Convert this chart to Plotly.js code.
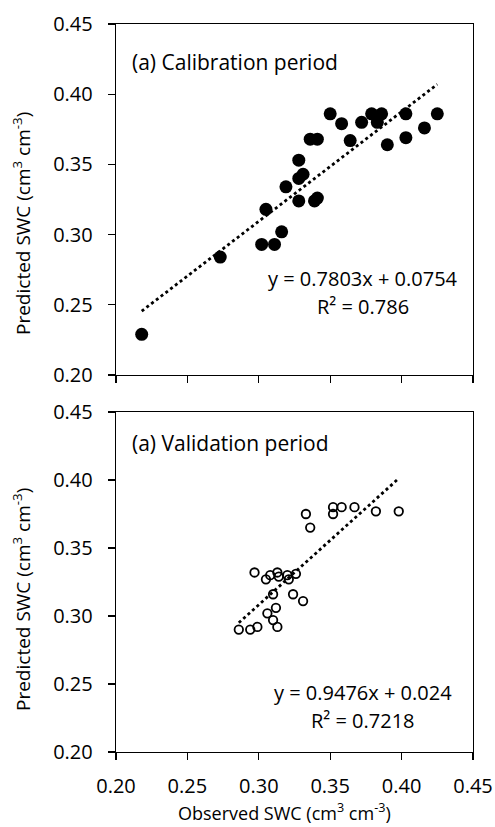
<!DOCTYPE html>
<html>
<head>
<meta charset="utf-8">
<script src="https://cdn.plot.ly/plotly-3.0.1.min.js"></script>
<style>html,body{margin:0;padding:0;background:#fff;}#chart{width:495px;height:827px;}</style>
</head>
<body>
<div id="chart"></div>
<script>
// Calibration period data (observed, predicted)
const calObserved = [0.218, 0.273, 0.302, 0.305, 0.311, 0.316, 0.319, 0.328, 0.328, 0.328, 0.331, 0.336, 0.339, 0.341, 0.341, 0.350, 0.358, 0.364, 0.372, 0.379, 0.383, 0.386, 0.390, 0.403, 0.403, 0.416, 0.425];
const calPredicted = [0.229, 0.284, 0.293, 0.318, 0.293, 0.302, 0.334, 0.353, 0.324, 0.340, 0.343, 0.368, 0.324, 0.326, 0.368, 0.386, 0.379, 0.367, 0.380, 0.386, 0.380, 0.386, 0.364, 0.369, 0.386, 0.376, 0.386];
// Validation period data
const valObserved = [0.286, 0.294, 0.299, 0.313, 0.310, 0.306, 0.312, 0.310, 0.324, 0.331, 0.297, 0.305, 0.308, 0.313, 0.314, 0.320, 0.321, 0.326, 0.333, 0.336, 0.352, 0.352, 0.358, 0.367, 0.382, 0.398];
const valPredicted = [0.290, 0.290, 0.292, 0.292, 0.297, 0.302, 0.306, 0.316, 0.316, 0.311, 0.332, 0.327, 0.330, 0.332, 0.329, 0.330, 0.327, 0.331, 0.375, 0.365, 0.380, 0.375, 0.380, 0.380, 0.377, 0.377];
// Regression coefficients [slope, intercept]
const calFit = [0.7803, 0.0754];
const valFit = [0.9476, 0.024];
const calLabel = "(a) Calibration period";
const valLabel = "(a) Validation period";
const calEq = ["y = 0.7803x + 0.0754", "R² = 0.786"];
const valEq = ["y = 0.9476x + 0.024", "R² = 0.7218"];
const yTitleText = "Predicted SWC (cm<sup>3</sup> cm<sup>-3</sup>)";
const xTitleText = "Observed SWC (cm<sup>3</sup> cm<sup>-3</sup>)";
const tickVals = [0.20, 0.25, 0.30, 0.35, 0.40, 0.45];
const tickText = ["0.20", "0.25", "0.30", "0.35", "0.40", "0.45"];

function fitLine(xs, coef) {
  const lo = Math.min(...xs), hi = Math.max(...xs);
  return {x: [lo, hi], y: [coef[0]*lo + coef[1], coef[0]*hi + coef[1]]};
}
const calLine = fitLine(calObserved, calFit);
const valLine = fitLine(valObserved, valFit);

const FONT = "Open Sans, Noto Sans, sans-serif";
const W = 495, H = 827;

const traces = [
  {x: calObserved, y: calPredicted, xaxis: 'x', yaxis: 'y', mode: 'markers', type: 'scatter',
   marker: {size: 13, color: '#000', symbol: 'circle'}, hoverinfo: 'skip'},
  {x: calLine.x, y: calLine.y, xaxis: 'x', yaxis: 'y', mode: 'lines', type: 'scatter',
   line: {color: '#000', width: 2.8, dash: '3px,3px'}, hoverinfo: 'skip'},
  {x: valObserved, y: valPredicted, xaxis: 'x2', yaxis: 'y2', mode: 'markers', type: 'scatter',
   marker: {size: 8.5, color: '#000', symbol: 'circle-open', line: {width: 1.8, color: '#000'}}, hoverinfo: 'skip'},
  {x: valLine.x, y: valLine.y, xaxis: 'x2', yaxis: 'y2', mode: 'lines', type: 'scatter',
   line: {color: '#000', width: 2.8, dash: '3px,3px'}, hoverinfo: 'skip'}
];

function yAxis(domain, anchor) {
  return {domain: domain, anchor: anchor, range: [0.20, 0.45], tickvals: tickVals, ticktext: tickText,
    showgrid: false, zeroline: false, showline: true, linecolor: '#000', linewidth: 1.3, mirror: true,
    ticks: 'outside', ticklen: 7, tickwidth: 1.3, tickcolor: '#000', ticklabelstandoff: 11,
    tickfont: {family: FONT, size: 20, color: '#000'}};
}
function xAxis(domain, anchor, showLabels) {
  return {domain: domain, anchor: anchor, range: [0.20, 0.45], tickvals: tickVals, ticktext: tickText,
    showgrid: false, zeroline: false, showline: true, linecolor: '#000', linewidth: 1.3, mirror: true,
    ticks: 'outside', ticklen: 7, tickwidth: 1.3, tickcolor: '#000', showticklabels: showLabels,
    ticklabelstandoff: 9,
    tickfont: {family: FONT, size: 20, color: '#000'}};
}

const xDom = [116/W, 473/W];
const topDom = [1 - 375/H, 1 - 24/H];
const botDom = [1 - 752/H, 1 - 412/H];

const labelFont = {family: FONT, size: 21, color: '#000'};
const eqFont = {family: FONT, size: 20, color: '#000'};
const titleFont = {family: FONT, size: 19, color: '#000'};
const layout = {
  width: W, height: H, margin: {l: 0, r: 0, t: 0, b: 0},
  paper_bgcolor: '#fff', plot_bgcolor: '#fff', showlegend: false,
  xaxis: xAxis(xDom, 'y', false),
  yaxis: yAxis(topDom, 'x'),
  xaxis2: xAxis(xDom, 'y2', true),
  yaxis2: yAxis(botDom, 'x2'),
  annotations: [
    {xref: 'x', yref: 'y', x: 0.2095, y: 0.423, text: calLabel, showarrow: false, xanchor: 'left', yanchor: 'middle', font: labelFont},
    {xref: 'x2', yref: 'y2', x: 0.2095, y: 0.4272, text: valLabel, showarrow: false, xanchor: 'left', yanchor: 'middle', font: labelFont},
    {xref: 'x', yref: 'y', x: 0.373, y: 0.269, text: calEq[0], showarrow: false, xanchor: 'center', yanchor: 'middle', font: eqFont},
    {xref: 'x', yref: 'y', x: 0.373, y: 0.249, text: calEq[1], showarrow: false, xanchor: 'center', yanchor: 'middle', font: eqFont},
    {xref: 'x2', yref: 'y2', x: 0.373, y: 0.2434, text: valEq[0], showarrow: false, xanchor: 'center', yanchor: 'middle', font: eqFont},
    {xref: 'x2', yref: 'y2', x: 0.373, y: 0.2228, text: valEq[1], showarrow: false, xanchor: 'center', yanchor: 'middle', font: eqFont},
    {xref: 'paper', yref: 'paper', x: 22/W, y: 1 - 224/H, text: yTitleText, textangle: -90, showarrow: false, xanchor: 'center', yanchor: 'middle', font: titleFont},
    {xref: 'paper', yref: 'paper', x: 22/W, y: 1 - 600/H, text: yTitleText, textangle: -90, showarrow: false, xanchor: 'center', yanchor: 'middle', font: titleFont},
    {xref: 'paper', yref: 'paper', x: 284/W, y: 1 - 812/H, text: xTitleText, showarrow: false, xanchor: 'center', yanchor: 'middle', font: {family: FONT, size: 18, color: '#000'}}
  ]
};

Plotly.newPlot('chart', traces, layout, {displayModeBar: false, staticPlot: true});
</script>
</body>
</html>
